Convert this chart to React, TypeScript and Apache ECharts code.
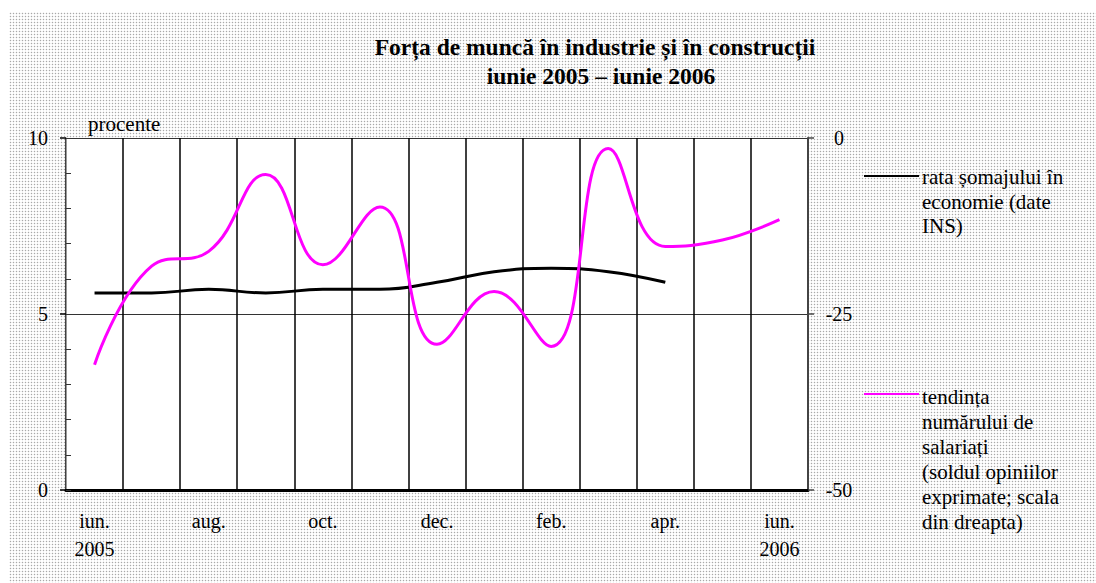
import React, { useEffect, useRef } from "react";
import * as echarts from "echarts";

const categories = [
  "iun.\n2005", "iul.", "aug.", "sept.", "oct.", "nov.", "dec.",
  "ian.", "feb.", "mar.", "apr.", "mai", "iun.\n2006",
];
const somaj = [5.6, 5.6, 5.7, 5.6, 5.7, 5.7, 5.9, 6.2, 6.3, 6.2, 5.9, null, null];
const tendinta = [-32.2, -18.2, -16.1, -5.2, -18.0, -9.8, -29.3, -21.8, -29.6, -1.5, -15.4, -14.5, -11.6];
const leftTicks = [0, 5, 10];
const rightTicks = [-50, -25, 0];
const title1 = "Forța de muncă în industrie și în construcții";
const title2 = "iunie 2005 – iunie 2006";
const legend1 = "rata șomajului în\neconomie (date\nINS)";
const legend2 = "tendința\nnumărului de\nsalariați\n(soldul opiniilor\nexprimate; scala\ndin dreapta)";

const SERIF = "Liberation Serif";

export default function App() {
  const ref = useRef<HTMLDivElement>(null);
  useEffect(() => {
    if (!ref.current) return;
    const chart = echarts.init(ref.current, undefined, { renderer: "svg" });
    const labelStyle = { fontFamily: SERIF, fontSize: 20, color: "#000" };
    chart.setOption({
      animation: false,
      backgroundColor: "transparent",
      grid: {
        left: 66, right: 288, top: 138, bottom: 93,
        show: true, backgroundColor: "#ffffff", borderWidth: 0,
      },
      xAxis: [
        {
          type: "category",
          data: categories,
          boundaryGap: true,
          position: "bottom",
          axisLine: { show: true, lineStyle: { color: "#000", width: 2 } },
          axisTick: { show: false },
          axisLabel: { ...labelStyle, interval: 1, margin: 17, lineHeight: 28 },
          splitLine: { show: true, interval: 0, lineStyle: { color: "#000", width: 1.5 } },
        },
        {
          type: "category",
          data: categories,
          boundaryGap: true,
          position: "top",
          axisLine: { show: true, lineStyle: { color: "#000", width: 3 } },
          axisTick: { show: false },
          axisLabel: { show: false },
          splitLine: { show: false },
        },
      ],
      yAxis: [
        {
          type: "value",
          min: 0, max: 10, interval: 1,
          position: "left",
          axisLine: { show: true, lineStyle: { color: "#999", width: 1 } },
          axisTick: { show: true, inside: true, length: 5, lineStyle: { color: "#333" } },
          axisLabel: { show: false },
          splitLine: { show: false },
        },
        {
          type: "value",
          min: 0, max: 10, interval: 5,
          position: "left",
          axisLine: { show: false },
          axisTick: { show: true, inside: false, length: 6, lineStyle: { color: "#000", width: 1.5 } },
          axisLabel: {
            ...labelStyle, margin: 18,
            formatter: (v: number) => (leftTicks.includes(v) ? String(v) : ""),
          },
          splitLine: { show: false },
        },
        {
          type: "value",
          min: -50, max: 0, interval: 25,
          position: "right",
          axisLine: { show: true, lineStyle: { color: "#444", width: 2 } },
          axisTick: { show: true, inside: false, length: 6, lineStyle: { color: "#444", width: 1.5 } },
          axisLabel: {
            ...labelStyle, margin: 31, align: "center",
            formatter: (v: number) => (rightTicks.includes(v) ? String(v) : ""),
          },
          splitLine: { show: true, lineStyle: { color: "#333", width: 1 } },
        },
      ],
      series: [
        {
          name: "rata șomajului",
          type: "line",
          xAxisIndex: 0,
          yAxisIndex: 0,
          data: somaj,
          smooth: 0.45,
          showSymbol: false,
          connectNulls: false,
          lineStyle: { color: "#000", width: 3 },
          z: 3,
        },
        {
          name: "tendința",
          type: "line",
          xAxisIndex: 0,
          yAxisIndex: 2,
          data: tendinta,
          smooth: 0.45,
          showSymbol: false,
          lineStyle: { color: "#ff00ff", width: 3 },
          z: 4,
        },
      ],
      graphic: [
        {
          type: "text", x: 595, y: 47,
          style: { text: title1, font: `bold 23.5px "${SERIF}"`, fill: "#000", textAlign: "center", textVerticalAlign: "middle" },
        },
        {
          type: "text", x: 601, y: 76,
          style: { text: title2, font: `bold 23.5px "${SERIF}"`, fill: "#000", textAlign: "center", textVerticalAlign: "middle" },
        },
        {
          type: "text", x: 88, y: 124,
          style: { text: "procente", font: `21px "${SERIF}"`, fill: "#000", textAlign: "left", textVerticalAlign: "middle" },
        },
        {
          type: "line",
          shape: { x1: 864, y1: 176, x2: 919, y2: 176 },
          style: { stroke: "#000", lineWidth: 2 },
        },
        {
          type: "text", x: 922, y: 165,
          style: { text: legend1, font: `21px "${SERIF}"`, fill: "#000", lineHeight: 24.5, textAlign: "left", textVerticalAlign: "top" },
        },
        {
          type: "line",
          shape: { x1: 864, y1: 394, x2: 919, y2: 394 },
          style: { stroke: "#ff00ff", lineWidth: 2 },
        },
        {
          type: "text", x: 922, y: 384,
          style: { text: legend2, font: `21px "${SERIF}"`, fill: "#000", lineHeight: 25, textAlign: "left", textVerticalAlign: "top" },
        },
      ],
    });
    return () => chart.dispose();
  }, []);

  return (
    <div style={{ position: "fixed", left: 0, top: 0, width: 1096, height: 583, background: "#fff", overflow: "hidden" }}>
      <div
        style={{
          position: "absolute", left: 9, top: 12, right: 0, bottom: 0,
          backgroundImage: "radial-gradient(circle, #a9a9a9 0.75px, transparent 1.05px)",
          backgroundSize: "3px 3px",
        }}
      />
      <div ref={ref} style={{ position: "absolute", left: 0, top: 0, width: 1096, height: 583 }} />
    </div>
  );
}
